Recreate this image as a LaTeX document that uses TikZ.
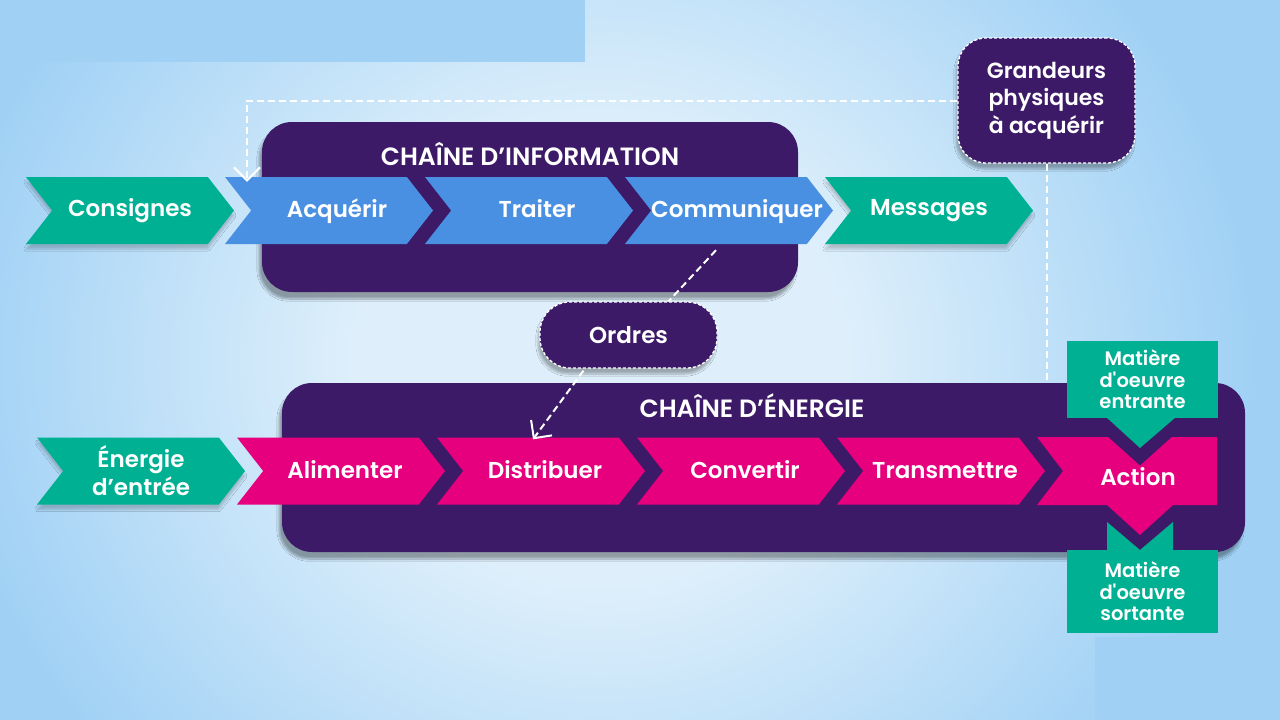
\documentclass[tikz,border=0pt]{standalone}
\usepackage{fontspec}
\setmainfont{Poppins}[Ligatures=TeXOff, BoldFont={Poppins SemiBold}]
\usetikzlibrary{positioning,shapes.symbols,arrows.meta,shadows.blur}

\definecolor{fond}{RGB}{160,209,245}
\definecolor{fondclair}{RGB}{222,239,251}
\definecolor{violet}{RGB}{60,26,103}
\definecolor{turquoise}{RGB}{0,176,147}
\definecolor{bleu}{RGB}{74,144,226}
\definecolor{rose}{RGB}{230,0,126}
\pgfdeclareradialshading{fondshade}{\pgfpoint{0bp}{0bp}}{color(0bp)=(fondclair); color(9bp)=(fondclair); color(24bp)=(fond); color(50bp)=(fond)}

\begin{document}
\begin{tikzpicture}[x=1pt,y=-1pt,
		% les deux grands cadres arrondis
		chainbox/.style={rectangle, fill=violet, rounded corners=30pt, inner sep=0pt,
			blur shadow={shadow xshift=-3pt, shadow yshift=-7pt, shadow blur steps=10, shadow opacity=35}},
		% titres des chaines
		chaintitle/.style={text=white, font=\fontsize{25}{29}\selectfont\bfseries},
		% fleches en chevron
		chevron/.style={signal, signal to=east, signal from=west, signal pointer angle=104,
			minimum width=208pt, minimum height=67pt, inner xsep=-30pt, inner ysep=0pt, text=white,
			align=center, font=\fontsize{23}{28}\selectfont\bfseries},
		flux/.style={chevron, fill=turquoise,
			blur shadow={shadow xshift=0pt, shadow yshift=-5pt, shadow blur steps=6, shadow opacity=20}},
		infostep/.style={chevron, fill=bleu, text height=17pt, text depth=3pt, execute at begin node=\hspace*{16pt}},
		energystep/.style={chevron, fill=rose, text height=17pt, text depth=3pt, execute at begin node=\hspace*{8pt}},
		% bulles en pointilles
		bubble/.style={rectangle, fill=violet, draw=white, line width=1.3pt, dash pattern=on 3pt off 2pt,
			rounded corners=28pt, minimum width=177pt, inner sep=0pt, text=white, align=center,
			font=\fontsize{22}{27.5}\selectfont\bfseries,
			blur shadow={shadow xshift=-2pt, shadow yshift=-6pt, shadow blur steps=8, shadow opacity=30}},
		% matiere d'oeuvre
		matiere/.style={rectangle, fill=turquoise, minimum width=151pt, inner sep=0pt, text=white,
			align=center, font=\fontsize{19.5}{21.5}\selectfont\bfseries},
		% liaisons en pointilles
		dashlink/.style={draw=white, line width=2pt, dash pattern=on 7pt off 4pt},
		opentip/.style={-{Straight Barb[length=13pt, width=26pt, line width=2pt]}}
	]
	\useasboundingbox (0,0) rectangle (1280,720);
	% fond
	\begin{scope}
		\clip (0,0) rectangle (1280,720);
		\shade[shading=fondshade] (-80,-260) rectangle (1280,980);
	\end{scope}
	\fill[fond] (0,0) rectangle (585,62);
	\fill[fond] (1095,637) rectangle (1280,720);

	%Cadres
	\node[chainbox, minimum width=536pt, minimum height=170pt] (chaineI) at (530,207) {};
	\node[chainbox, minimum width=963pt, minimum height=169pt] (chaineE) at (763.5,467.5) {};
	\node[chaintitle]      (titreI)        at ([yshift=-32pt]chaineI.north)            {CHAÎNE D’INFORMATION};
	\node[chaintitle]      (titreE)        at (752,406)                                {CHAÎNE D’ÉNERGIE};

	%Chaine d'information
	\node[flux]            (consignes)     at (130,210.5)                              {Consignes};
	\node[infostep]        (acquerir)      [on grid, right=199pt of consignes]         {Acquérir};
	\node[infostep]        (traiter)       [on grid, right=200pt of acquerir]          {Traiter};
	\node[infostep]        (communiquer)   [on grid, right=200pt of traiter]           {Communiquer};
	\node[flux]            (messages)      [on grid, right=200pt of communiquer]       {Messages};

	%Chaine d'energie
	\node[flux]            (entree)        at (141,471)                                {Énergie\\d’entrée};
	\node[energystep]      (alimenter)     [on grid, right=200pt of entree]            {Alimenter};
	\node[energystep]      (distribuer)    [on grid, right=200pt of alimenter]         {Distribuer};
	\node[energystep]      (convertir)     [on grid, right=200pt of distribuer]        {Convertir};
	\node[energystep]      (transmettre)   [on grid, right=200pt of convertir]         {Transmettre};

	% action : chevron avec pointe vers le bas
	\fill[rose] (1037,437) -- (1217,437) -- (1217,505) -- (1173,505) -- (1140,535) -- (1107,505)
		-- (1037,505) -- (1063,471) -- cycle;
	\draw[violet, line width=20pt] (1100,416) -- (1140,452) -- (1180,416);
	\node[text=white, font=\fontsize{23}{28}\selectfont\bfseries] (action) at (1138,477) {Action};

	% matiere d'oeuvre entrante et sortante
	\node[matiere, minimum height=77pt]  (mentrante)   at (1142.5,379.5)   {Matière\\d'oeuvre\\entrante};
	\fill[turquoise] (1106,417) -- (1140,448) -- (1176,417) -- cycle;
	\node[matiere, minimum height=83pt]  (msortante)   at (1142.5,591.5)   {Matière\\d'oeuvre\\sortante};
	\fill[turquoise] (1107,551) -- (1107,522) -- (1140,550) -- (1173,522) -- (1173,551) -- cycle;

	% bulles
	\node[bubble, minimum height=125pt]  (grandeurs)   at (1046.5,100.5)   {Grandeurs\\physiques\\à acquérir};
	\node[bubble, minimum height=66pt, rounded corners=30pt, font=\fontsize{23}{28}\selectfont\bfseries]
	                                     (ordres)      at (628.5,335)      {Ordres};

	%Lines
	\draw[dashlink, opentip] (grandeurs.west) -| ([xshift=-82pt, yshift=-5pt]acquerir.north);
	\draw[dashlink, shorten >=3pt] (grandeurs.south) -- (grandeurs.south |- chaineE.north);
	\draw[dashlink] ([xshift=-13pt, yshift=-6pt]communiquer.south) -- ([xshift=40pt]ordres.north);
	\draw[dashlink, opentip] ([xshift=-45pt, yshift=-2pt]ordres.south) -- ([xshift=-8pt, yshift=-2pt]distribuer.north);
\end{tikzpicture}
\end{document}
